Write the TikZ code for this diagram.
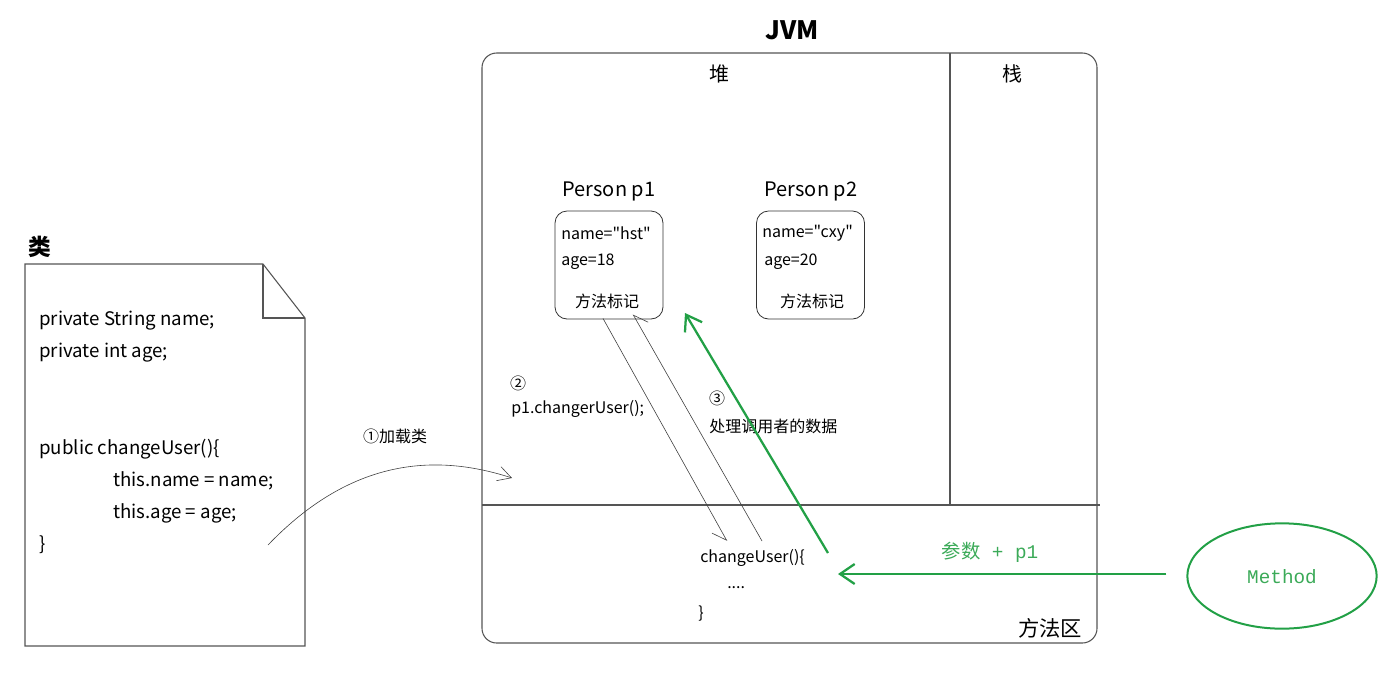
\documentclass[tikz,border=0pt]{standalone}
\usepackage{fontspec}
\setmainfont{Noto Sans CJK SC}[Ligatures=TeXOff]
\newfontfamily\codefont{Liberation Mono}
\usetikzlibrary{arrows.meta, positioning, calc, shapes.geometric}
\definecolor{frame}{HTML}{555555}
\definecolor{pass}{HTML}{22A046}
\definecolor{passtxt}{HTML}{3BAA58}

\begin{document}
\begin{tikzpicture}[
    x = 0.75pt, y = -0.75pt,
    > = {Straight Barb[length=10pt, width=11pt]},
    code/.style    = {anchor=west, inner sep=0pt, font=\fontsize{14}{16}\selectfont},
    field/.style   = {anchor=west, inner sep=0pt, font=\fontsize{12}{14}\selectfont},
    note/.style    = {inner sep=0pt, font=\fontsize{12}{14}\selectfont},
    heading/.style = {inner sep=0pt, font=\fontsize{19}{22}\selectfont\bfseries},
    area/.style    = {inner sep=0pt, font=\fontsize{15}{18}\selectfont},
    objbox/.style  = {draw=black!80, line width=0.6pt, rounded corners=9pt,
                      minimum width=81pt, minimum height=81pt, inner sep=0pt},
    thinline/.style= {draw=black!75, line width=0.45pt},
    link/.style    = {thinline, -{Straight Barb[harpoon, swap, length=10pt, width=14pt]}},
    passflow/.style= {draw=pass, line width=1.7pt,
                      -{Straight Barb[length=11pt, width=15pt, line width=1.7pt]}},
    passtext/.style= {inner sep=0pt, text=passtxt, font=\fontsize{14.5}{17}\selectfont},
]
\useasboundingbox (0,0) rectangle (1400,672);

% ------------------------------------------- class file -------------------------------------------
\node[heading, font=\fontsize{17}{20}\selectfont\bfseries] (cls) at (40,247) {类};
\draw[frame, line width=0.8pt] (25,264) -- (263,264) -- (305,318) -- (305,646) -- (25,646) -- cycle;
\draw[frame, line width=0.8pt] (263,264) -- (263,318) -- (305,318);

\node[code] (f1) at (39,321) {private String name;};
\node[code] (f2) at (39,353) {private int age;};
\node[code] (m1) at (39,449) {public changeUser()\{};
\node[code] (m2) at (113,481) {this.name = name;};
\node[code] (m3) at (113,513) {this.age = age;};
\node[code] (m4) at (39,545) {\}};

% ---------------------------------------------- JVM -----------------------------------------------
\node[heading] (jvm) at (792,30) {JVM};
\draw[frame, line width=0.8pt, rounded corners=11pt] (482,53) rectangle (1097,643);
\draw[frame, line width=0.8pt] (950,53) -- (950,505);
\draw[frame, line width=0.8pt] (482,505) -- (1100,505);

\node[area] (heap)  at (719,74)   {堆};
\node[area] (stack) at (1012,74)  {栈};
\node[area, font=\fontsize{16}{18}\selectfont] (marea) at (1050,628) {方法区};

% -------------------------------------------- objects ---------------------------------------------
\node[objbox] (p1) at (609,265) {};
\node[objbox] (p2) at (810.5,265) {};
\node[area] (p1t) at (609,191) {Person p1};
\node[area] (p2t) at (811,191) {Person p2};

\node[field] (p1n) at (561,233) {name="hst"};
\node[field] (p1a) at (561,262) {age=18};
\node[note]  (p1m) at (607,301) {方法标记};
\node[field] (p2n) at (762,233) {name="cxy"};
\node[field] (p2a) at (764,262) {age=20};
\node[note]  (p2m) at (812,301) {方法标记};

% ------------------------------------------ method area -------------------------------------------
\node[field] (cu)   at (700,558) {changeUser()\{};
\node[field] (cud)  at (727,588) {....};
\node[field] (cue)  at (698,614) {\}};

\node[note]  (s2)  at (518,383) {②};
\node[field] (s2t) at (511,409) {p1.changerUser();};
\node[note]  (s3)  at (717,398) {③};
\node[field] (s3t) at (709,426) {处理调用者的数据};
\node[note]  (s1)  at (395,436) {①加载类};

% ------------------------------------------- method call ------------------------------------------
\node[draw=pass, line width=1.5pt, ellipse, minimum width=142pt, minimum height=79pt]
    (method) at (1282,576) {};
\node[passtext] (mt) at (1282,577) {\codefont Method};
\node[passtext] (pt) at (990,552) {参数\codefont{} + p1};

% --------------------------------------------- arrows ---------------------------------------------
\coordinate (load)  at (268,545);
\coordinate (ldin)  at (512,478);
\coordinate (down)  at (727,541);
\coordinate (up)    at (762,541);
\coordinate (back)  at (828,553);
\coordinate (mark)  at (685,313);
\coordinate (param) at (838,574);

\draw[thinline, ->] (load) .. controls (340,470) and (420,448) .. (ldin);
\draw[link] ($(p1.south)+(-6,-1)$) -- (down);
\draw[link] (up) -- ($(p1.south)+(24,-5)$);
\draw[passflow] (back) -- (mark);
\draw[passflow, shorten <=15pt] (method.west |- param) -- (param);

\end{tikzpicture}
\end{document}
